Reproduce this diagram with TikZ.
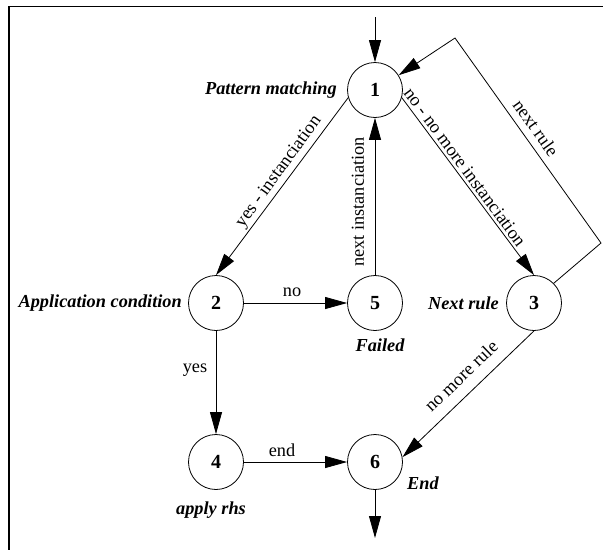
\documentclass[tikz,border=0pt]{standalone}
\usepackage{fontspec}
\setmainfont{Liberation Serif}
\usetikzlibrary{arrows.meta}
\tikzset{
  state/.style={circle, draw, line width=0.8pt, minimum size=55pt, inner sep=0pt,
    font=\fontsize{20}{20}\selectfont\bfseries},
  lab/.style={inner sep=0pt, font=\fontsize{18.3}{22}\selectfont},
  title/.style={inner sep=0pt, font=\fontsize{18.3}{22}\selectfont\bfseries\itshape},
  arr/.style={-{Triangle[length=22pt,width=12pt]}, line width=0.8pt},
  frame/.style={line width=1.8pt}
}
\begin{document}
\begin{tikzpicture}[x=1pt,y=-1pt]
\useasboundingbox (0,0) rectangle (603,550);
% frame (top and left edges only)
\coordinate (ftl) at (9,6.5);
\coordinate (ftr) at (603,6.5);
\coordinate (fbl) at (9,550);
\draw[frame] (ftr) -- (ftl) -- (fbl);

% states
\node[state] (n1) at (375,90) {1};
\node[state] (n2) at (216,303) {2};
\node[state] (n5) at (375,303) {5};
\node[state] (n3) at (534,303) {3};
\node[state] (n4) at (216,462) {4};
\node[state] (n6) at (375,462) {6};

% state names
\node[title, anchor=east] (t1) at (337,90) {Pattern matching};
\node[title, anchor=east] (t2) at (182,303) {Application condition};
\node[title, anchor=east] (t3) at (499,303) {Next rule};
\node[title] (t5) at (380,345) {Failed};
\node[title] (t6) at (423,483) {End};
\node[title] (t4) at (211,510) {apply rhs};

% free ends
\coordinate (in) at (375,17);
\coordinate (out) at (375,538);
\coordinate (r1) at (601,243);
\coordinate (r2) at (455,38);

% connectors
\draw[arr] (in) -- (n1);
\draw[arr] (n6) -- (out);
\draw[arr] (n1.196) -- (n2.north);
\draw[arr] (n1.-16) -- (n3.north);
\draw[arr] (n5) -- (n1);
\draw[arr] (n2) -- (n5);
\draw[arr] (n2) -- (n4);
\draw[arr] (n4) -- (n6);
\draw[arr] (n3.south) -- (n6.10);
\draw[arr] (n3.45) -- (r1) -- (r2) -- (n1.32);

% connector labels
\node[lab, rotate=54] (l12) at (279,172) {yes - instanciation};
\node[lab, rotate=90] (l51) at (358,202) {next instanciation};
\node[lab, rotate=-53.5] (l13) at (465,167) {no - no more instanciation};
\node[lab, rotate=-54.5] (l31) at (536,128) {next rule};
\node[lab, rotate=43.7] (l36) at (461,376) {no more rule};
\node[lab] (l25) at (292,292) {no};
\node[lab] (l24) at (195,370) {yes};
\node[lab] (l46) at (282,450) {end};
\end{tikzpicture}
\end{document}
